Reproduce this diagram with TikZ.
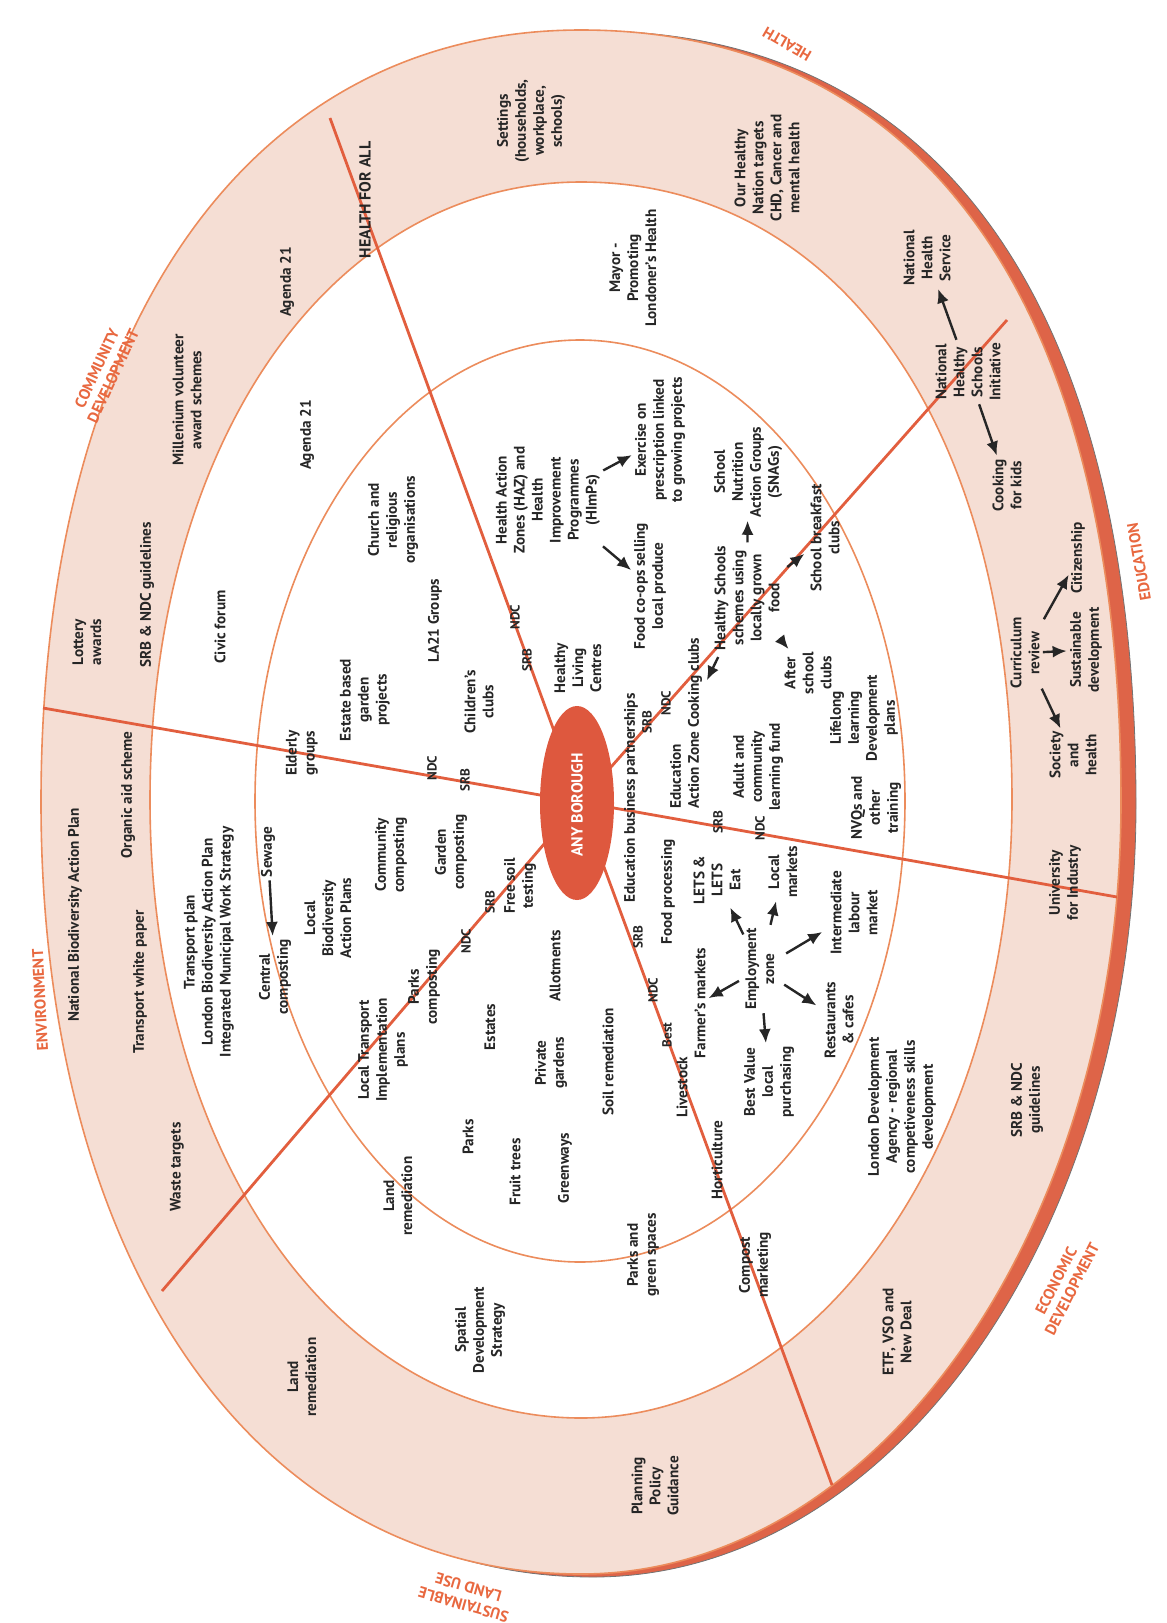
\documentclass[tikz,border=0pt]{standalone}
\usepackage{fontspec}
\setmainfont{PT Sans}
\usetikzlibrary{arrows.meta}
\definecolor{ringfill}{RGB}{245,222,212}
\definecolor{ringline}{RGB}{236,140,92}
\definecolor{divline}{RGB}{226,94,62}
\definecolor{rimred}{RGB}{222,100,72}
\definecolor{borough}{RGB}{222,88,62}
\definecolor{catred}{RGB}{232,104,64}

\begin{document}
\begin{tikzpicture}[x=0.5pt,y=-0.5pt,
    txt/.style={rotate=90,align=center,inner sep=0.5pt,text=black!85,font=\bfseries\fontsize{7.6}{9}\selectfont},
    tag/.style={rotate=90,inner sep=0pt,text=black!85,font=\bfseries\fontsize{6.6}{7}\selectfont},
    head/.style={rotate=90,inner sep=0pt,text=black!85,font=\bfseries\fontsize{8}{9}\selectfont},
    cat/.style={align=center,inner sep=0pt,text=catred,font=\bfseries\fontsize{7.8}{9}\selectfont},
    arr/.style={-{Latex[length=7pt,width=6pt]},line width=1.2pt,black!85,shorten >=1pt,shorten <=1pt}]
               \useasboundingbox (0,0) rectangle (1167,1623);
               \filldraw[fill=rimred,draw=black!55,line width=0.4pt] (593,31) .. controls (259,31) and (50,329) .. (50,804) .. controls (50,1268) and (267,1577) .. (593,1577) .. controls (893,1577) and (1136,1231) .. (1136,804) .. controls (1136,309) and (941,31) .. (593,31) -- cycle;
               \filldraw[fill=ringfill,draw=ringline,line width=0.8pt] (581,30) .. controls (249,30) and (41,327) .. (41,802) .. controls (41,1265) and (257,1574) .. (581,1574) .. controls (879,1574) and (1121,1228) .. (1121,802) .. controls (1121,308) and (927,30) .. (581,30) -- cycle;
               \filldraw[fill=white,draw=ringline,line width=0.8pt] (581,182) .. controls (331,182) and (150,442) .. (150,800) .. controls (150,1152) and (335,1418) .. (581,1418) .. controls (819,1418) and (1012,1141) .. (1012,800) .. controls (1012,429) and (840,182) .. (581,182) -- cycle;
               \draw[ringline,line width=0.8pt] (580,801) ellipse (325 and 461);
               \coordinate (hub) at (580,802);
               \draw[divline,line width=1.4pt] (hub) -- (330,118);
               \draw[divline,line width=1.4pt] (hub) -- (43,708);
               \draw[divline,line width=1.4pt] (hub) -- (162,1291);
               \draw[divline,line width=1.4pt] (hub) -- (832,1485);
               \draw[divline,line width=1.4pt] (hub) -- (1117,897);
               \draw[divline,line width=1.4pt] (hub) -- (1007,320);
               \fill[borough] (577,803) ellipse (37 and 97);
               \node[rotate=90,text=white,font=\bfseries\fontsize{8}{9}\selectfont] (borough) at (577,805) {ANY BOROUGH};

               \node[cat,rotate=93] (environment) at (40,1000) {ENVIRONMENT};
               \node[cat,rotate=65] (community) at (105,372) {COMMUNITY\\DEVELOPMENT};
               \node[cat,rotate=150] (health) at (787,44) {HEALTH};
               \node[cat,rotate=100] (education) at (1139,562) {EDUCATION};
               \node[cat,rotate=63] (economic) at (1064,1285) {ECONOMIC\\DEVELOPMENT};
               \node[cat,rotate=164] (landuse) at (466,1596) {SUSTAINABLE\\LAND USE};

               \node[txt] (settings) at (531,121) {Settings\\(households,\\workplace,\\schools)};
               \node[txt] (ohn) at (767,168) {Our Healthy\\Nation targets\\CHD, Cancer and\\mental health};
               \node[txt] (nhs) at (927,258) {National\\Health\\Service};
               \node[txt] (nhsi) at (968,372) {National\\Healthy\\Schools\\Initiative};
               \node[txt] (cooking) at (1007,485) {Cooking\\for kids};
               \node[txt] (curr) at (1025,653) {Curriculum\\review};
               \node[txt] (citizen) at (1078,558) {Citizenship};
               \node[txt] (sustdev) at (1086,650) {Sustainable\\development};
               \node[txt] (society) at (1073,755) {Society\\and\\health};
               \node[txt] (ufi) at (1065,883) {University\\for Industry};
               \node[txt] (srbright) at (1027,1100) {SRB \& NDC\\guidelines};
               \node[txt] (etf) at (897,1332) {ETF, VSO and\\New Deal};
               \node[txt] (ppg) at (655,1486) {Planning\\Policy\\Guidance};
               \node[txt] (landout) at (302,1377) {Land\\remediation};
               \node[txt] (waste) at (177,1167) {Waste targets};
               \node[txt] (nbap) at (75,915) {National Biodiversity Action Plan};
               \node[txt] (twp) at (140,982) {Transport white paper};
               \node[txt] (organic) at (128,795) {Organic aid scheme};
               \node[txt] (lottery) at (87,642) {Lottery\\awards};
               \node[txt] (srbleft) at (147,595) {SRB \& NDC guidelines};
               \node[txt] (millen) at (187,400) {Millenium volunteer\\award schemes};
               \node[txt] (agendaout) at (287,282) {Agenda 21};
               \node[head] (hfa) at (365,200) {HEALTH FOR ALL};

               \node[txt] (agendain) at (307,435) {Agenda 21};
               \node[txt] (mayor) at (633,268) {Mayor -\\Promoting\\Londoner's Health};
               \node[txt] (civic) at (220,627) {Civic forum};
               \node[txt] (tplan) at (209,942) {Transport plan\\London Biodiversity Action Plan\\Integrated Municipal Work Strategy};
               \node[txt] (central) at (275,977) {Central\\composting};
               \node[txt] (sewage) at (268,852) {Sewage};
               \node[txt] (landin) at (398,1196) {Land\\remediation};
               \node[txt] (spatial) at (480,1330) {Spatial\\Development\\Strategy};
               \node[txt] (parksgreen) at (643,1255) {Parks and\\green spaces};
               \node[txt] (compost) at (755,1265) {Compost\\marketing};
               \node[txt] (lda) at (902,1107) {London Development\\Agency - regional\\competiveness skills\\development};
               \node[txt] (nvq) at (876,808) {NVQs and\\other\\training};
               \node[txt] (lifelong) at (864,718) {Lifelong\\learning\\Development\\plans};
               \node[txt] (breakfast) at (825,538) {School breakfast\\clubs};
               \node[txt] (after) at (808,673) {After\\school\\clubs};

               \node[txt] (church) at (393,520) {Church and\\religious\\organisations};
               \node[txt] (estate) at (365,700) {Estate based\\garden\\projects};
               \node[txt] (la21) at (435,621) {LA21 Groups};
               \node[txt] (children) at (479,702) {Children's\\clubs};
               \node[txt] (elderly) at (302,753) {Elderly\\groups};
               \node[txt] (hlc) at (578,668) {Healthy\\Living\\Centres};
               \node[txt] (haz) at (548,500) {Health Action\\Zones (HAZ) and\\Health\\Improvement\\Programmes\\(HImPs)};
               \node[txt] (exercise) at (660,440) {Exercise on\\prescription linked\\to growing projects};
               \node[txt] (foodcoop) at (650,586) {Food co-ops selling\\local produce};
               \node[txt] (snag) at (748,472) {School\\Nutrition\\Action Groups\\(SNAGs)};
               \node[txt] (hschools) at (747,598) {Healthy Schools\\schemes using\\locally grown\\food};
               \node[txt,align=left] (eaz) at (686,723) {Education\\Action Zone Cooking clubs};
               \node[txt] (ebp) at (631,798) {Education business partnerships};
               \node[txt] (adult) at (758,767) {Adult and\\community\\learning fund};
               \node[txt] (lets) at (717,880) {LETS \&\\LETS\\Eat};
               \node[txt] (foodproc) at (668,892) {Food processing};
               \node[txt] (localmk) at (783,872) {Local\\markets};
               \node[txt] (emp) at (760,969) {Employment\\zone};
               \node[txt] (farmers) at (700,1003) {Farmer's markets};
               \node[txt] (bestvalue) at (769,1082) {Best Value\\local\\purchasing};
               \node[txt] (restaurants) at (839,1020) {Restaurants\\\& cafes};
               \node[txt] (interm) at (854,913) {Intermediate\\labour\\market};
               \node[txt] (horti) at (717,1160) {Horticulture};
               \node[txt] (livestock) at (682,1087) {Livestock};
               \node[txt] (soil) at (608,1062) {Soil remediation};
               \node[txt] (allot) at (555,966) {Allotments};
               \node[txt] (private) at (551,1063) {Private\\gardens};
               \node[txt] (estates) at (490,1027) {Estates};
               \node[txt] (parkscomp) at (424,987) {Parks\\composting};
               \node[txt] (parks) at (468,1137) {Parks};
               \node[txt] (fruit) at (515,1172) {Fruit trees};
               \node[txt] (greenways) at (565,1168) {Greenways};
               \node[txt] (soiltest) at (520,886) {Free soil\\testing};
               \node[txt] (gardencomp) at (451,852) {Garden\\composting};
               \node[txt] (commcomp) at (391,855) {Community\\composting};
               \node[txt] (lbap) at (328,918) {Local\\Biodiversity\\Action Plans};
               \node[txt] (ltip) at (383,1050) {Local Transport\\Implementation\\plans};

               \node[tag] (ndcw) at (432,768) {NDC};
               \node[tag] (srbw) at (465,780) {SRB};
               \node[tag] (ndcn) at (515,617) {NDC};
               \node[tag] (srbn) at (527,660) {SRB};
               \node[tag] (srbne) at (647,722) {SRB};
               \node[tag] (ndcne) at (666,703) {NDC};
               \node[tag] (srbe) at (718,822) {SRB};
               \node[tag] (ndce) at (760,828) {NDC};
               \node[tag] (srbse) at (638,937) {SRB};
               \node[tag] (ndcse) at (653,990) {NDC};
               \node[tag] (best) at (667,1035) {Best};
               \node[tag] (srbsw) at (490,902) {SRB};
               \node[tag] (ndcsw) at (466,941) {NDC};

               \draw[arr] (nhsi) -- (nhs);
               \draw[arr] (nhsi) -- (cooking);
               \draw[arr,shorten <=3pt] (curr) -- (citizen);
               \draw[arr] (curr) -- (sustdev);
               \draw[arr] (curr) -- (society);
               \draw[arr] (sewage) -- (central);
               \draw[arr] (haz) -- (exercise);
               \draw[arr] (haz) -- (foodcoop);
               \draw[arr] (hschools) -- (snag);
               \draw[arr,shorten <=3pt,shorten >=4pt] (hschools) -- (eaz);
               \draw[arr,shorten <=4pt,shorten >=3pt] (hschools) -- (breakfast);
               \draw[arr] (hschools) -- (after);
               \draw[arr] (emp) -- (localmk);
               \draw[arr] (emp) -- (lets);
               \draw[arr,shorten <=3pt] (emp) -- (farmers);
               \draw[arr] (emp) -- (bestvalue);
               \draw[arr,shorten <=5pt,shorten >=4pt] (emp) -- (restaurants);
               \draw[arr,shorten <=6pt,shorten >=4pt] (emp) -- (interm);
\end{tikzpicture}
\end{document}
